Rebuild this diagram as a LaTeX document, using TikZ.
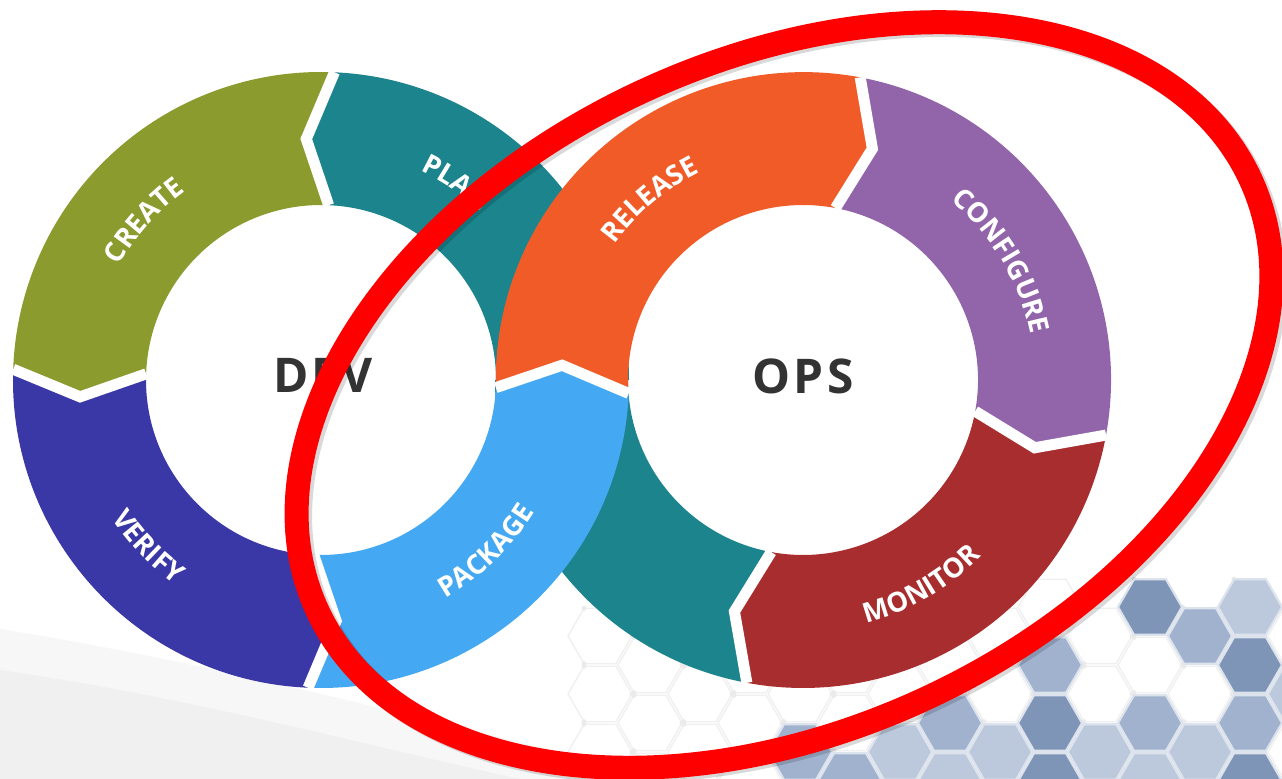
\documentclass[tikz,border=0pt]{standalone}
\usepackage{fontspec}
\setmainfont{Open Sans}
\newfontfamily\stepfont[LetterSpace=14]{Open Sans}
\newfontfamily\hubfont[LetterSpace=7]{Open Sans}
\usepackage{tikz}
\usetikzlibrary{calc,decorations.text}

\definecolor{plan}{RGB}{27,132,141}
\definecolor{create}{RGB}{139,155,45}
\definecolor{verify}{RGB}{58,55,166}
\definecolor{package}{RGB}{68,168,242}
\definecolor{release}{RGB}{241,91,40}
\definecolor{configure}{RGB}{146,100,170}
\definecolor{monitor}{RGB}{168,45,47}
\definecolor{hubgray}{RGB}{51,51,51}
\definecolor{hexdark}{RGB}{121,144,180}
\definecolor{hexmid}{RGB}{155,174,204}
\definecolor{hexlight}{RGB}{185,199,219}

\tikzset{
    gap/.style={
           draw=white,
           line width=0.11cm,
           line join=miter
           },
    hub/.style={
           font=\hubfont\bfseries\fontsize{13.6}{15}\selectfont,
           text=hubgray,
           inner sep=0pt
           },
    loopmark/.style={
           draw=red,
           line width=0.24cm
           },
    hexcell/.style={
           draw=white!65!hexmid,
           line width=0.6pt
           },
    net/.style={
           draw=black!6,
           line width=0.4pt
           },
    steplabel/.style={
           decorate,
           decoration={text along path, text align=center, text color=white, text={#1}}
           }
}

\newcommand{\stepfmt}{\stepfont\bfseries\fontsize{7.8}{9}\selectfont}

% one piece of a ring: centre, from, to, tip shift, colour
\newcommand{\ringseg}[5]{%
  \fill[#5] ($(#1)+(#2:308)$) arc[start angle=#2, end angle=#3, radius=308]
     -- ($(#1)+({#3+#4}:241.5)$) -- ($(#1)+(#3:175)$)
     arc[start angle=#3, end angle=#2, radius=175]
     -- ($(#1)+({#2+#4}:241.5)$) -- cycle;}

% white cut between two pieces
\newcommand{\ringgap}[3]{%
  \draw[gap] ($(#1)+(#2:308)$) -- ($(#1)+({#2+#3}:241.5)$) -- ($(#1)+(#2:175)$);}

\newcommand{\hexpath}{+(0:32) -- +(60:32) -- +(120:32) -- +(180:32) -- +(240:32) -- +(300:32) -- cycle}

\begin{document}
\begin{tikzpicture}[x=0.01cm, y=0.01cm]
   \useasboundingbox (0,0) rectangle (1282,779);
   \fill[white] (0,0) rectangle (1282,779);

   \coordinate (dev) at (321,399);
   \coordinate (ops) at (803,399);
   \coordinate (loopc) at (784,384);

   % grey sweep at the bottom left
   \fill[black!3] (0,0) -- (0,150) .. controls (250,110) and (450,50) .. (680,0) -- cycle;
   \fill[black!6] (0,0) -- (0,109) .. controls (200,80) and (380,30) .. (520,0) -- cycle;

   % faint hex net
   \foreach \i in {-9,...,5} {
     \foreach \j in {-1,0,1,2} {
       \pgfmathsetmacro\hx{1050+50*\i}
       \pgfmathsetmacro\hy{114-58*\j-29*mod(\i+10,2)}
       \draw[net] (\hx,\hy) \hexpath;
       \foreach \a in {0,120,240}
         \fill[black!8] ($(\hx,\hy)+(\a:32)$) circle[radius=2.5];
     }
   }

   % hex cells
   \foreach \i/\j/\c in {2/-1/hexdark, 3/-1/hexmid, 4/-1/hexlight, 4/0/hexdark,
                         0/0/hexmid, 5/0/hexlight, 0/1/hexdark, -2/1/hexmid,
                         2/1/hexmid, 4/1/hexmid, -1/1/hexlight, 1/1/hexlight,
                         3/1/hexlight, -3/1/hexlight, -5/1/hexmid, 0/2/hexdark,
                         4/2/hexdark, -2/2/hexlight, 2/2/hexlight, -4/2/hexmid} {
     \pgfmathsetmacro\hx{1050+50*\i}
     \pgfmathsetmacro\hy{114-58*\j-29*mod(\i+10,2)}
     \fill[\c, hexcell, fill opacity=0.95] (\hx,\hy) \hexpath;
   }

   % teal strip runs from the OPS ring over into the DEV ring
   \fill[plan] ($(ops)+(-100.5:308)$) arc[start angle=-100.5, end angle=-180, radius=308]
      -- ($(dev)+(0:175)$) arc[start angle=0, end angle=87.5, radius=175]
      -- ($(dev)+(93.5:241.5)$) -- ($(dev)+(87.5:308)$)
      arc[start angle=87.5, end angle=0, radius=308]
      -- ($(ops)+(180:175)$) arc[start angle=180, end angle=259.5, radius=175]
      -- ($(ops)+(253.5:241.5)$) -- cycle;

   \ringseg{dev}{87.5}{178}{6}{create}
   \ringseg{dev}{178}{267.6}{6}{verify}
   \ringseg{ops}{79.3}{-10.3}{-6}{configure}
   \ringseg{ops}{-10.3}{-100.5}{-6}{monitor}
   \ringseg{dev}{-92.4}{-2.5}{6}{package}
   % release starts at the crossing
   \fill[release] ($(dev)+(-2.5:175)$) arc[start angle=181.4, end angle=79.3, radius=308]
      -- ($(ops)+(73.3:241.5)$) -- ($(ops)+(79.3:175)$)
      arc[start angle=79.3, end angle=184.4, radius=175]
      -- ($(dev)+(3.5:241.5)$) -- cycle;

   \ringgap{dev}{87.5}{6}
   \ringgap{dev}{178}{6}
   \ringgap{dev}{-92.4}{6}
   \ringgap{dev}{-2.5}{6}
   \ringgap{ops}{79.3}{-6}
   \ringgap{ops}{-10.3}{-6}
   \ringgap{ops}{-100.5}{-6}

   % step names
   \path[steplabel={|\stepfmt|PLAN}] ($(dev)+(100.6:232)$) arc[start angle=100.6, end angle=10.6, radius=232];
   \path[steplabel={|\stepfmt|CREATE}] ($(dev)+(183:232)$) arc[start angle=183, end angle=93, radius=232];
   \path[steplabel={|\stepfmt|VERIFY}] ($(dev)+(179:251)$) arc[start angle=179, end angle=269, radius=251];
   \path[steplabel={|\stepfmt|PACKAGE}] ($(dev)+(-91:251)$) arc[start angle=-91, end angle=-1, radius=251];
   \path[steplabel={|\stepfmt|RELEASE}] ($(ops)+(175.3:232)$) arc[start angle=175.3, end angle=85.3, radius=232];
   \path[steplabel={|\stepfmt|CONFIGURE}] ($(ops)+(76:232)$) arc[start angle=76, end angle=-14, radius=232];
   \path[steplabel={|\stepfmt|MONITOR}] ($(ops)+(-105:251)$) arc[start angle=-105, end angle=-15, radius=251];

   \node[hub] (devhub) at (323,404) {DEV};
   \node[hub] (opshub) at (803,403) {OPS};

   % ring round the OPS half
   \draw[loopmark, draw=black, opacity=0.15, rotate around={24.8:(loopc)}] ($(loopc)+(2,-4)$) ellipse[x radius=514, y radius=335];
   \draw[loopmark, rotate around={24.8:(loopc)}] (loopc) ellipse[x radius=514, y radius=335];
\end{tikzpicture}
\end{document}
